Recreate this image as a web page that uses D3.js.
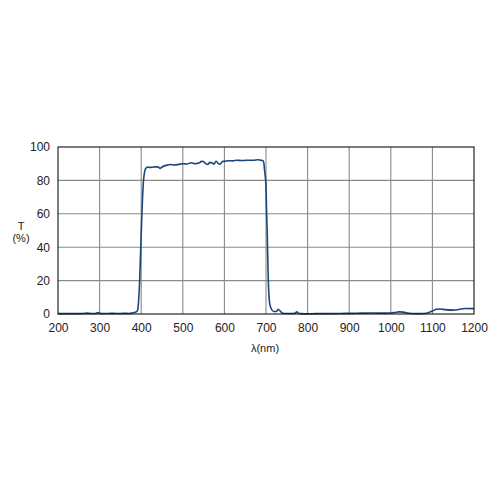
<!DOCTYPE html>
<html><head><meta charset="utf-8">
<script src="https://cdn.jsdelivr.net/npm/d3@7"></script>
<style>body{margin:0;background:#fff}svg{display:block}text{font-family:"Liberation Sans",Arial,sans-serif;fill:#222}</style>
</head><body>
<svg id="c" width="500" height="500"></svg>
<script>
const wavelength = [200,220,240,260,270,280,290,296,300,304,310,320,330,340,350,360,370,380,385,390,392,393.5,396,398,400,402,405,409,412,416,420,430,440,445,450,460,470,480,490,500,510,520,530,540,545,550,555,560,565,570,575,580,585,590,595,600,610,620,630,640,650,660,670,680,690,693,695,697,700,701,703,705,706,708,710,713,718,725,729,735,740,750,760,770,774,778,785,800,820,850,880,900,930,960,980,1000,1010,1020,1030,1040,1060,1080,1090,1100,1110,1120,1130,1150,1170,1180,1200];
const transmission = [0.2,0.2,0.2,0.3,0.5,0.3,0.3,0.8,0.6,0.3,0.3,0.3,0.4,0.3,0.3,0.4,0.3,0.7,1,1.5,3,7,18,33,48,62,78,86,87.5,88,87.8,88,88.2,87.2,88,89,89.5,89.2,89.6,90,89.8,90.6,90,90.5,91.4,91.3,90,89.5,90.8,90.6,89.8,91.5,90.2,89.7,91.3,91.4,91.8,91.7,92.1,91.9,92,92.1,92.1,92.4,92,91.8,90,85,77,65,48,25,17,8,5,3,1.5,1.5,2.8,1.5,0.5,0.3,0.3,0.4,1.3,0.4,0.2,0.1,0.2,0.2,0.3,0.4,0.5,0.6,0.5,0.6,0.9,1.3,1.1,0.6,0.2,0.3,0.8,1.8,2.8,3,2.6,2.3,3,3.3,3.2];
const xTicks = [200,300,400,500,600,700,800,900,1000,1100,1200];
const yTicks = [0,20,40,60,80,100];
const xLabel = "λ(nm)";
const yLabel1 = "T";
const yLabel2 = "(%)";

const svg = d3.select("#c");
const L = 58, R = 474, T = 147, B = 314;
const x = d3.scaleLinear().domain([200,1200]).range([L,R]);
const y = d3.scaleLinear().domain([0,100]).range([B,T]);

const g = svg.append("g");
g.selectAll(".gx").data(xTicks.slice(1,-1)).join("line")
  .attr("x1",d=>x(d)).attr("x2",d=>x(d)).attr("y1",T).attr("y2",B)
  .attr("stroke","#8a8a8a").attr("stroke-width",1.1);
g.selectAll(".gy").data(yTicks.slice(1,-1)).join("line")
  .attr("y1",d=>y(d)).attr("y2",d=>y(d)).attr("x1",L).attr("x2",R)
  .attr("stroke","#8a8a8a").attr("stroke-width",1.1);

const line = d3.line().x((d,i)=>x(wavelength[i])).y(d=>y(d)).curve(d3.curveMonotoneX);
g.append("path").datum(transmission).attr("d",line)
  .attr("fill","none").attr("stroke","#1c4679").attr("stroke-width",1.6);

g.append("rect").attr("x",L).attr("y",T).attr("width",R-L).attr("height",B-T)
  .attr("fill","none").attr("stroke","#111").attr("stroke-width",1.1);

const fs = "12px";
const xAxis = d3.axisBottom(x).tickValues(xTicks).tickSize(0).tickPadding(9).tickFormat(d3.format("d"));
const xa = svg.append("g").attr("transform",`translate(0,${B})`).call(xAxis);
xa.select(".domain").remove();
xa.selectAll("text").attr("font-size",fs).style("font-family","'Liberation Sans',Arial,sans-serif").attr("fill","#222");

const yAxis = d3.axisLeft(y).tickValues(yTicks).tickSize(0).tickPadding(8).tickFormat(d3.format("d"));
const ya = svg.append("g").attr("transform",`translate(${L},0)`).call(yAxis);
ya.select(".domain").remove();
ya.selectAll("text").attr("font-size",fs).style("font-family","'Liberation Sans',Arial,sans-serif").attr("fill","#222");

svg.append("text").attr("x",265).attr("y",352).attr("text-anchor","middle").attr("font-size","11px").text(xLabel);
svg.append("text").attr("x",21).attr("y",230).attr("text-anchor","middle").attr("font-size","11px").text(yLabel1);
svg.append("text").attr("x",21).attr("y",242).attr("text-anchor","middle").attr("font-size","11px").text(yLabel2);
</script>
</body></html>
